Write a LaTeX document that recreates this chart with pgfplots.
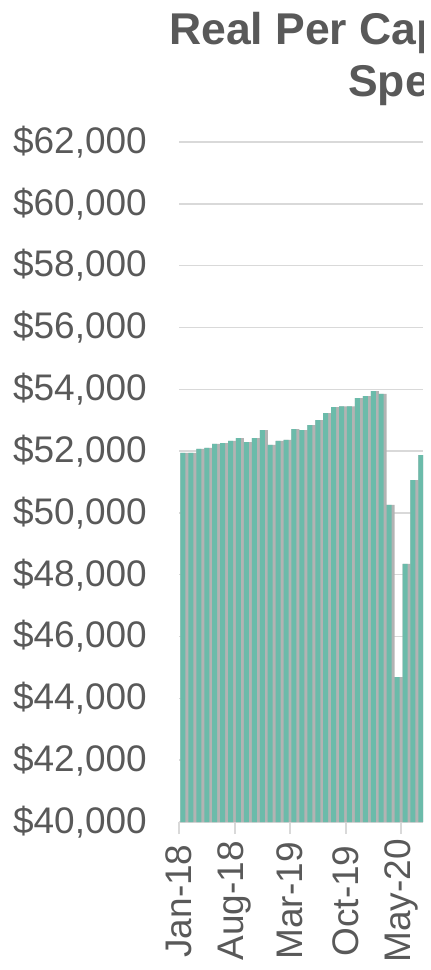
\documentclass[border=0pt]{standalone}
\usepackage{fontspec}
\setmainfont{Liberation Sans}
\usepackage{pgfplots}
\pgfplotsset{compat=1.18}
\usepackage{pgfplotstable}

\definecolor{txt}{HTML}{595959}
\definecolor{gridc}{HTML}{D9D9D9}
\definecolor{barc}{HTML}{6BBBAA}
\definecolor{shadowc}{HTML}{B3B3B3}

% monthly values, Jan-18 = 0
\pgfplotstableread{
m  v
0  51940
1  51940
2  52070
3  52100
4  52230
5  52260
6  52330
7  52420
8  52290
9  52420
10 52680
11 52200
12 52330
13 52360
14 52710
15 52680
16 52840
17 53000
18 53230
19 53420
20 53450
21 53450
22 53710
23 53780
24 53940
25 53850
26 50260
27 44690
28 48350
29 51060
30 51870
}\spend

\begin{document}
\begin{tikzpicture}[x=1pt,y=1pt]
\path[use as bounding box] (0,0) rectangle (431,970);
\begin{scope}
\clip (0,0) rectangle (423,970);
\node[anchor=base west, inner sep=0pt, text=txt,
      font=\fontsize{44.5}{53}\selectfont\bfseries] at (169,925) {Real Per Capita Personal Consumption};
\node[anchor=base west, inner sep=0pt, text=txt,
      font=\fontsize{44.5}{53}\selectfont\bfseries] at (348,873) {Spending};
\begin{axis}[
    at={(179pt,148pt)}, anchor=south west,
    scale only axis,
    width=244pt, height=680pt,
    xmin=-0.5, xmax=30.27,
    ymin=40000, ymax=62000,
    axis x line*=bottom, axis y line*=left,
    x axis line style={draw=gridc, line width=2pt},
    y axis line style={draw=none},
    scaled y ticks=false,
    ytick={40000,42000,...,62000},
    yticklabels={{\$40,000},{\$42,000},{\$44,000},{\$46,000},{\$48,000},{\$50,000},{\$52,000},{\$54,000},{\$56,000},{\$58,000},{\$60,000},{\$62,000}},
    ymajorgrids,
    major grid style={draw=gridc, line width=1.5pt},
    ytick style={draw=none},
    xtick={-0.5,6.5,13.5,20.5,27.5},
    xticklabels={Jan-18,Aug-18,Mar-19,Oct-19,May-20},
    xtick style={draw=gridc, line width=2pt},
    tick align=outside,
    major tick length=12pt,
    yticklabel style={font=\fontsize{37}{44}\selectfont, text=txt, inner sep=0pt, anchor=east},
    yticklabel shift=20pt,
    xticklabel style={font=\fontsize{37}{44}\selectfont, text=txt, inner sep=0pt, rotate=90, anchor=center, xshift=5pt},
    xticklabel shift=72pt,
    clip=true,
]
\addplot[ybar, bar width=8pt, bar shift=1.5pt, fill=shadowc, draw=none] table[x=m, y=v] {\spend};
\addplot[ybar, bar width=5pt, bar shift=0pt, fill=barc, draw=none] table[x=m, y=v] {\spend};
\end{axis}
\end{scope}
\end{tikzpicture}
\end{document}
